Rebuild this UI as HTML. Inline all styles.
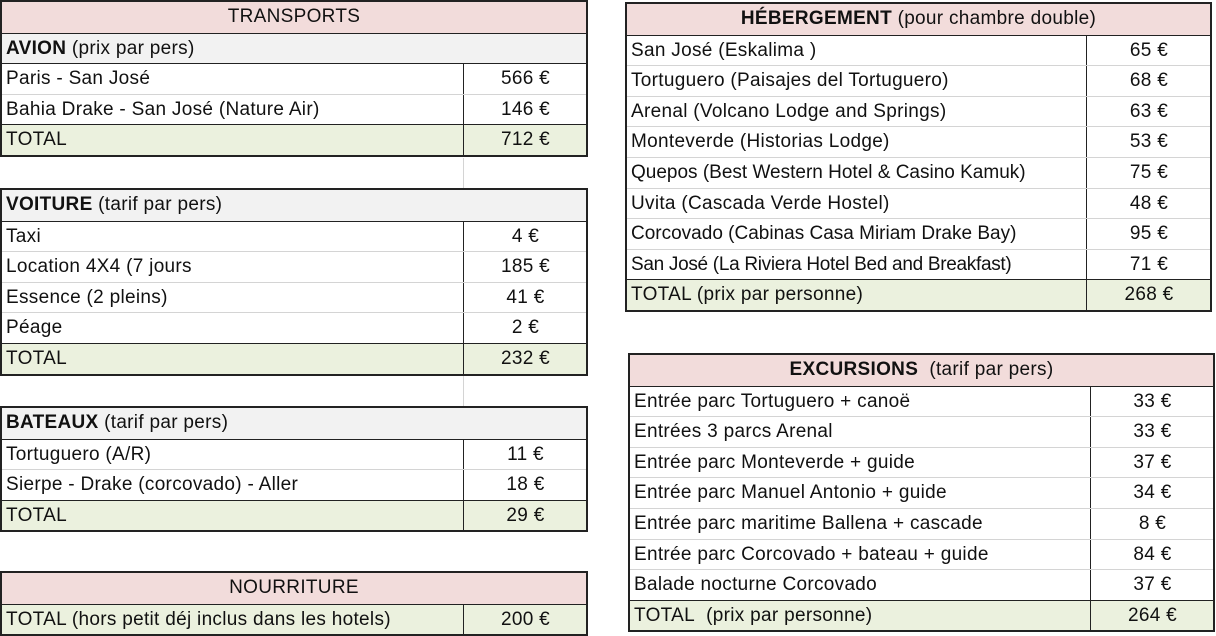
<!DOCTYPE html>
<html><head><meta charset="utf-8">
<style>
body{margin:0;width:1216px;height:635px;background:#fff;position:relative;overflow:hidden;font-family:"Liberation Sans",sans-serif;font-size:19px;letter-spacing:0.3px;color:#111}
.box{position:absolute;border:2px solid #222;box-sizing:border-box;background:#fff}
.row{position:relative;height:30.6px;border-top:1px solid #d4d4d4;box-sizing:border-box;line-height:30px;white-space:nowrap}
.row:first-child{border-top:none}
.row.dk{border-top:1.5px solid #222}
.l{position:absolute;left:4px;top:0}
.v{position:absolute;top:0;bottom:0;border-left:1.5px solid #222;text-align:center}
.hd{background:#f2dcdb;text-align:center}
.sec{background:#f2f2f2;padding-left:4px}
.tot{background:#ebf1de}
</style></head><body>

<div class="box" style="left:0;top:0;width:588px">
 <div class="row hd">TRANSPORTS</div>
 <div class="row sec dk"><b>AVION</b> (prix par pers)</div>
 <div class="row dk"><span class="l">Paris - San José</span><span class="v" style="left:461px;width:123px">566 €</span></div>
 <div class="row"><span class="l">Bahia Drake - San José (Nature Air)</span><span class="v" style="left:461px;width:123px">146 €</span></div>
 <div class="row tot dk"><span class="l">TOTAL</span><span class="v" style="left:461px;width:123px">712 €</span></div>
</div>
<div style="position:absolute;left:463px;top:158px;height:30px;border-left:1px solid #d4d4d4"></div>

<div class="box" style="left:0;top:188px;width:588px">
 <div class="row sec"><b>VOITURE</b> (tarif par pers)</div>
 <div class="row dk"><span class="l">Taxi</span><span class="v" style="left:461px;width:123px">4 €</span></div>
 <div class="row"><span class="l">Location 4X4 (7 jours</span><span class="v" style="left:461px;width:123px">185 €</span></div>
 <div class="row"><span class="l">Essence (2 pleins)</span><span class="v" style="left:461px;width:123px">41 €</span></div>
 <div class="row"><span class="l">Péage</span><span class="v" style="left:461px;width:123px">2 €</span></div>
 <div class="row tot dk"><span class="l">TOTAL</span><span class="v" style="left:461px;width:123px">232 €</span></div>
</div>
<div style="position:absolute;left:463px;top:376px;height:30px;border-left:1px solid #d4d4d4"></div>

<div class="box" style="left:0;top:406px;width:588px">
 <div class="row sec"><b>BATEAUX</b> (tarif par pers)</div>
 <div class="row dk"><span class="l">Tortuguero (A/R)</span><span class="v" style="left:461px;width:123px">11 €</span></div>
 <div class="row"><span class="l">Sierpe - Drake (corcovado) - Aller</span><span class="v" style="left:461px;width:123px">18 €</span></div>
 <div class="row tot dk"><span class="l">TOTAL</span><span class="v" style="left:461px;width:123px">29 €</span></div>
</div>

<div class="box" style="left:0;top:571px;width:588px">
 <div class="row hd">NOURRITURE</div>
 <div class="row tot dk"><span class="l">TOTAL (hors petit déj inclus dans les hotels)</span><span class="v" style="left:461px;width:123px">200 €</span></div>
</div>

<div class="box" style="left:625px;top:2px;width:587px">
 <div class="row hd"><b>HÉBERGEMENT</b> (pour chambre double)</div>
 <div class="row dk"><span class="l">San José (Eskalima )</span><span class="v" style="left:459px;width:124px">65 €</span></div>
 <div class="row"><span class="l">Tortuguero (Paisajes del Tortuguero)</span><span class="v" style="left:459px;width:124px">68 €</span></div>
 <div class="row"><span class="l">Arenal (Volcano Lodge and Springs)</span><span class="v" style="left:459px;width:124px">63 €</span></div>
 <div class="row"><span class="l">Monteverde (Historias Lodge)</span><span class="v" style="left:459px;width:124px">53 €</span></div>
 <div class="row"><span class="l" style="letter-spacing:0">Quepos (Best Western Hotel &amp; Casino Kamuk)</span><span class="v" style="left:459px;width:124px">75 €</span></div>
 <div class="row"><span class="l">Uvita (Cascada Verde Hostel)</span><span class="v" style="left:459px;width:124px">48 €</span></div>
 <div class="row"><span class="l" style="letter-spacing:0">Corcovado (Cabinas Casa Miriam Drake Bay)</span><span class="v" style="left:459px;width:124px">95 €</span></div>
 <div class="row"><span class="l" style="letter-spacing:-0.3px">San José (La Riviera Hotel Bed and Breakfast)</span><span class="v" style="left:459px;width:124px">71 €</span></div>
 <div class="row tot dk"><span class="l">TOTAL (prix par personne)</span><span class="v" style="left:459px;width:124px">268 €</span></div>
</div>

<div class="box" style="left:628px;top:353px;width:587px">
 <div class="row hd"><b>EXCURSIONS</b>&nbsp; (tarif par pers)</div>
 <div class="row dk"><span class="l">Entrée parc Tortuguero + canoë</span><span class="v" style="left:460px;width:123px">33 €</span></div>
 <div class="row"><span class="l">Entrées 3 parcs Arenal</span><span class="v" style="left:460px;width:123px">33 €</span></div>
 <div class="row"><span class="l">Entrée parc Monteverde + guide</span><span class="v" style="left:460px;width:123px">37 €</span></div>
 <div class="row"><span class="l">Entrée parc Manuel Antonio + guide</span><span class="v" style="left:460px;width:123px">34 €</span></div>
 <div class="row"><span class="l">Entrée parc maritime Ballena + cascade</span><span class="v" style="left:460px;width:123px">8 €</span></div>
 <div class="row"><span class="l">Entrée parc Corcovado + bateau + guide</span><span class="v" style="left:460px;width:123px">84 €</span></div>
 <div class="row"><span class="l">Balade nocturne Corcovado</span><span class="v" style="left:460px;width:123px">37 €</span></div>
 <div class="row tot dk"><span class="l">TOTAL&nbsp; (prix par personne)</span><span class="v" style="left:460px;width:123px">264 €</span></div>
</div>

</body></html>
